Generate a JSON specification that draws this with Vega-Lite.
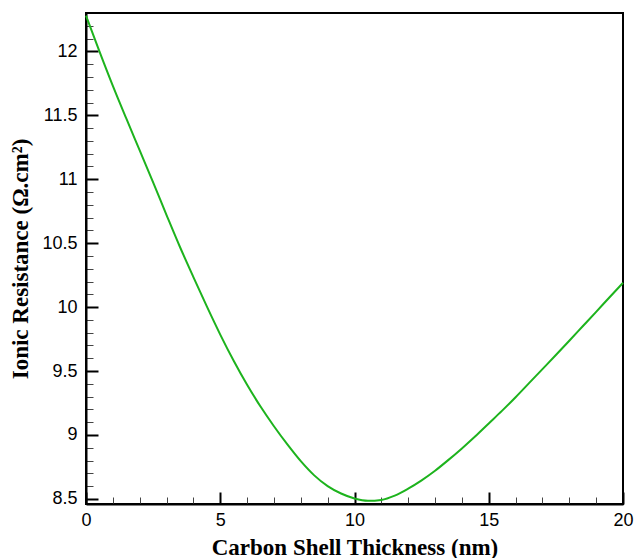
{
  "$schema": "https://vega.github.io/schema/vega-lite/v6.json",
  "width": 537,
  "height": 491,
  "autosize": "none",
  "padding": {"left": 86, "top": 13, "right": 13, "bottom": 54},
  "background": "white",
  "config": {
    "view": {"stroke": "black", "strokeWidth": 2},
    "axis": {
      "grid": false,
      "domainColor": "black",
      "domainWidth": 2,
      "tickColor": "black",
      "labelFont": "Liberation Sans",
      "labelFontSize": 18,
      "labelColor": "black",
      "titleFont": "Liberation Serif",
      "titleFontWeight": "bold",
      "titleFontSize": 23,
      "titleColor": "black"
    }
  },
  "data": {
    "values": [
      {"t": 0, "r": 12.28},
      {"t": 0.5, "r": 12.0},
      {"t": 1, "r": 11.73},
      {"t": 1.5, "r": 11.475},
      {"t": 2, "r": 11.225},
      {"t": 2.5, "r": 10.975},
      {"t": 3, "r": 10.72},
      {"t": 3.5, "r": 10.47},
      {"t": 4, "r": 10.235},
      {"t": 4.5, "r": 10.005},
      {"t": 5, "r": 9.785},
      {"t": 5.5, "r": 9.58},
      {"t": 6, "r": 9.392},
      {"t": 6.5, "r": 9.222},
      {"t": 7, "r": 9.068},
      {"t": 7.5, "r": 8.926},
      {"t": 8, "r": 8.795},
      {"t": 8.5, "r": 8.684},
      {"t": 9, "r": 8.6},
      {"t": 9.5, "r": 8.542},
      {"t": 10, "r": 8.503},
      {"t": 10.5, "r": 8.485},
      {"t": 11, "r": 8.492},
      {"t": 11.5, "r": 8.525},
      {"t": 12, "r": 8.58},
      {"t": 12.5, "r": 8.645},
      {"t": 13, "r": 8.72},
      {"t": 13.5, "r": 8.805},
      {"t": 14, "r": 8.895},
      {"t": 14.5, "r": 8.99},
      {"t": 15, "r": 9.09},
      {"t": 15.5, "r": 9.19},
      {"t": 16, "r": 9.295},
      {"t": 16.5, "r": 9.405},
      {"t": 17, "r": 9.515},
      {"t": 17.5, "r": 9.625},
      {"t": 18, "r": 9.737},
      {"t": 18.5, "r": 9.85},
      {"t": 19, "r": 9.963},
      {"t": 19.5, "r": 10.077},
      {"t": 20, "r": 10.19}
    ]
  },
  "resolve": {"axis": {"x": "independent", "y": "independent"}},
  "layer": [
    {
      "mark": {"type": "line", "strokeOpacity": 0},
      "encoding": {
        "x": {
          "field": "t", "type": "quantitative",
          "scale": {"domain": [0, 20], "nice": false, "zero": false},
          "axis": {"orient": "bottom", "values": [1,2,3,4,6,7,8,9,11,12,13,14,16,17,18,19], "tickSize": -7, "tickWidth": 1, "tickColor": "#444", "labels": false, "domain": false, "title": null}
        },
        "y": {
          "field": "r", "type": "quantitative",
          "scale": {"domain": [8.46, 12.3], "nice": false, "zero": false},
          "axis": {"orient": "left", "values": [8.6,8.7,8.8,8.9,9.1,9.2,9.3,9.4,9.6,9.7,9.8,9.9,10.1,10.2,10.3,10.4,10.6,10.7,10.8,10.9,11.1,11.2,11.3,11.4,11.6,11.7,11.8,11.9,12.1,12.2], "tickSize": -7, "tickWidth": 1, "tickColor": "#444", "labels": false, "domain": false, "title": null}
        }
      }
    },
    {
      "mark": {"type": "line", "color": "#1db31d", "strokeWidth": 2, "interpolate": "monotone"},
      "encoding": {
        "x": {
          "field": "t", "type": "quantitative",
          "scale": {"domain": [0, 20], "nice": false, "zero": false},
          "axis": {"orient": "bottom", "values": [0, 5, 10, 15, 20], "tickSize": -12, "tickWidth": 2, "labelPadding": 19, "labelFlush": false, "labelExpr": "datum.value", "title": "Carbon Shell Thickness (nm)", "titlePadding": 7}
        },
        "y": {
          "field": "r", "type": "quantitative",
          "scale": {"domain": [8.46, 12.3], "nice": false, "zero": false},
          "axis": {"orient": "left", "values": [8.5, 9, 9.5, 10, 10.5, 11, 11.5, 12], "tickSize": -12, "tickWidth": 2, "labelPadding": 21, "labelFlush": false, "labelExpr": "datum.value", "title": "Ionic Resistance (Ω.cm²)", "titlePadding": 9}
        }
      }
    }
  ]
}
